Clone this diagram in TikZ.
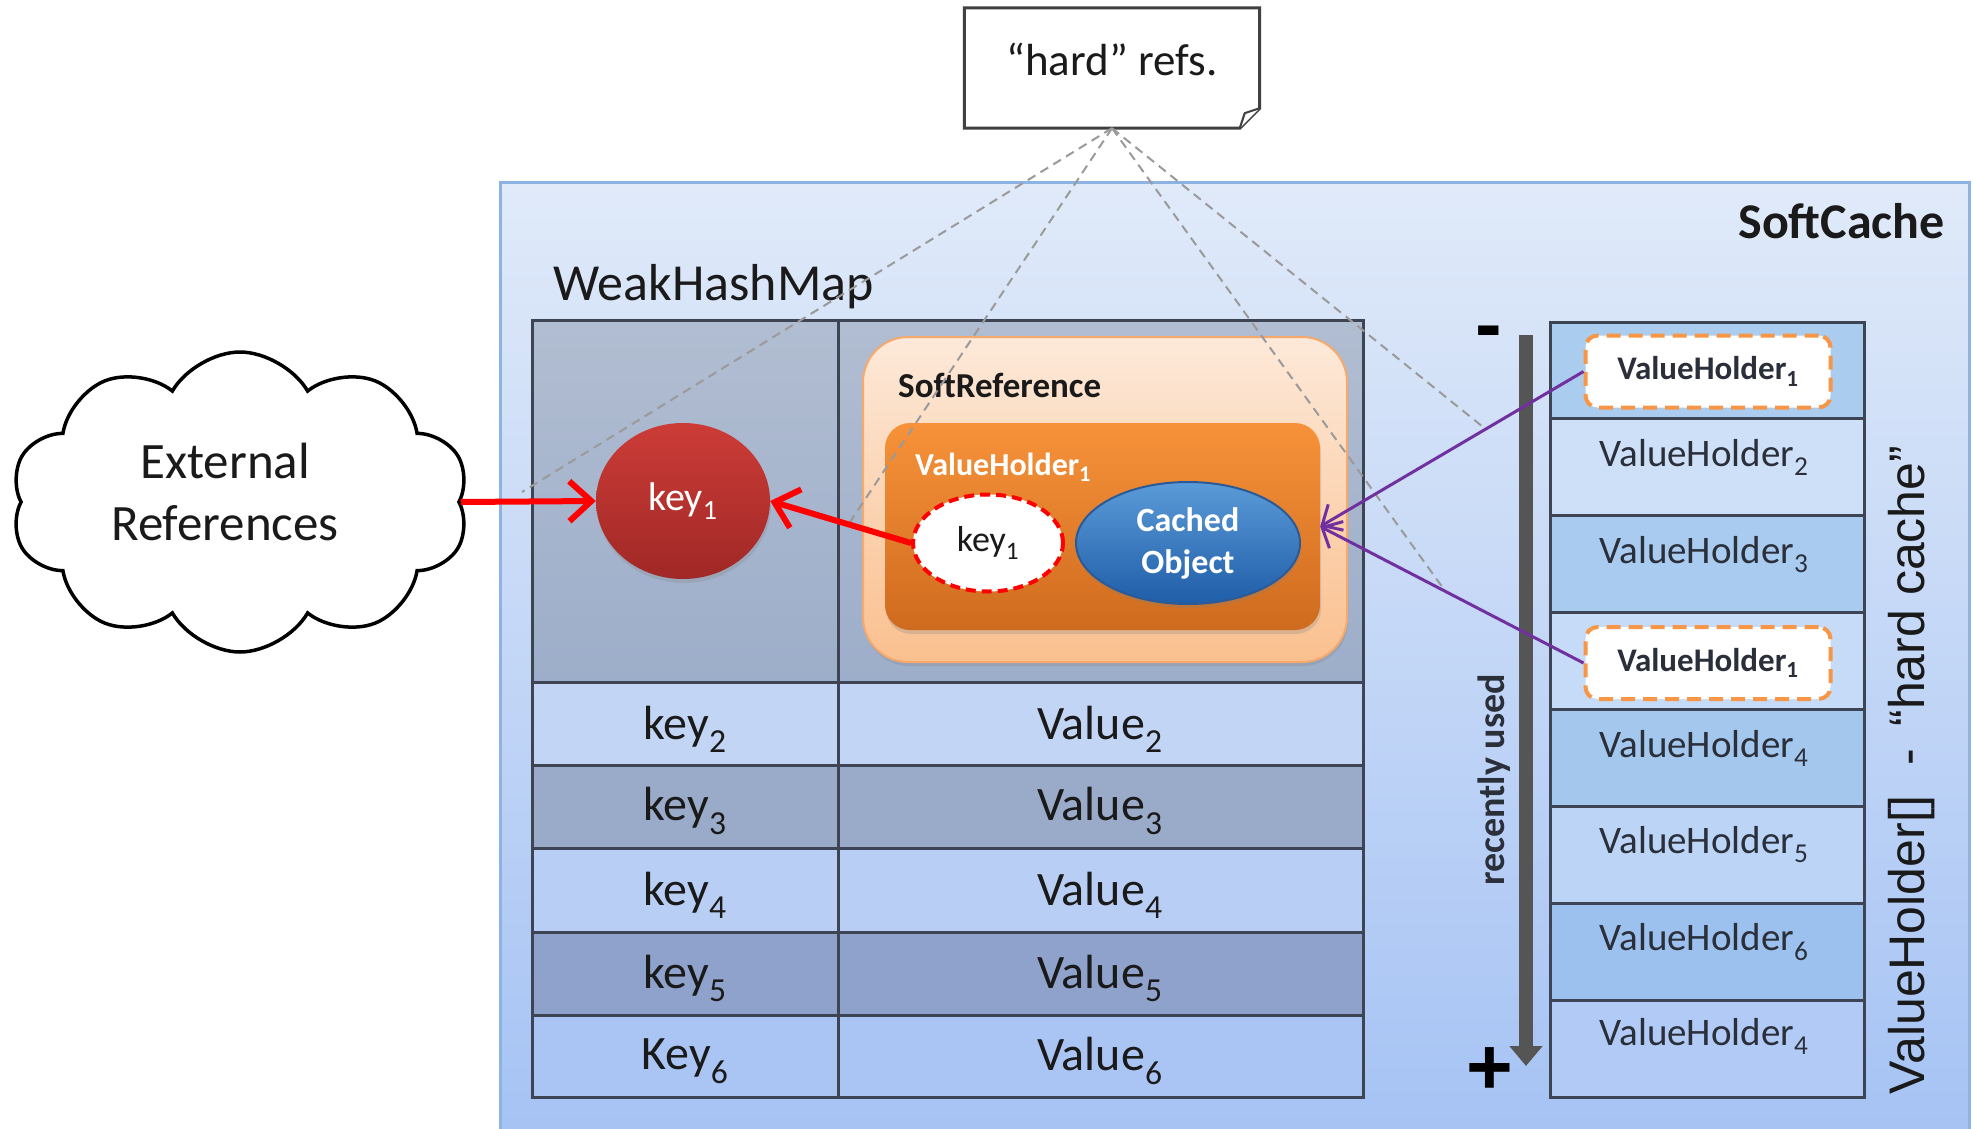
\documentclass[tikz,border=0pt]{standalone}
\usepackage{fontspec}
\setmainfont{Carlito}
\newfontfamily\arialf{Liberation Sans}
\usetikzlibrary{shapes.geometric,shapes.symbols,arrows.meta,calc,shadows}

\definecolor{cacheTop}{HTML}{E0EAF9}
\definecolor{cacheBot}{HTML}{A6C3F4}
\definecolor{cacheBorder}{HTML}{8DB3E2}
\definecolor{gridc}{HTML}{3D4555}
\definecolor{tabTop}{HTML}{B1BDD1}
\definecolor{tabTopB}{HTML}{9DAECA}
\definecolor{rowLtwo}{HTML}{C3D5F5}
\definecolor{rowDthree}{HTML}{9AABC9}
\definecolor{rowLfour}{HTML}{B9CEF4}
\definecolor{rowDfive}{HTML}{8EA2CB}
\definecolor{rowLsix}{HTML}{AAC4F4}
\definecolor{txtc}{HTML}{1A1A1A}
\definecolor{vhtxtc}{HTML}{2A2F3A}
\definecolor{peachTop}{HTML}{FDE9D9}
\definecolor{peachBot}{HTML}{FAC08F}
\definecolor{peachBorder}{HTML}{F6A96C}
\definecolor{orangeTop}{HTML}{F7923A}
\definecolor{orangeBot}{HTML}{CF6B1E}
\definecolor{blueTop}{HTML}{5B9BD8}
\definecolor{blueBot}{HTML}{1F5DA8}
\definecolor{blueBorder}{HTML}{2A5B98}
\definecolor{redTop}{HTML}{CC3C37}
\definecolor{redBot}{HTML}{A02826}
\definecolor{arrRed}{HTML}{FF0000}
\definecolor{purp}{HTML}{7030A0}
\definecolor{dashOrange}{HTML}{F79646}
\definecolor{hardc}{HTML}{9A9A9A}
\definecolor{barc}{HTML}{555555}
\definecolor{notec}{HTML}{404040}

\begin{document}
\begin{tikzpicture}[x=1pt,y=-1pt,
  grid/.style={draw=gridc,line width=3pt},
  tabtxt/.style={text=txtc,font=\fontsize{48}{52}\selectfont,inner sep=0pt},
  vhrow/.style={draw=gridc,line width=3pt,minimum width=314pt,minimum height=96.9pt,inner sep=0pt},
  vhtxt/.style={text=vhtxtc,font=\fontsize{39}{42}\selectfont,inner sep=0pt},
  dashbox/.style={draw=dashOrange,fill=white,line width=4pt,dash pattern=on 14pt off 8pt,rounded corners=12pt,minimum width=245pt,minimum height=72pt,inner sep=0pt,font=\bfseries\fontsize{33}{36}\selectfont,text=vhtxtc},
  redarr/.style={draw=arrRed,line width=6pt,-{Straight Barb[length=22pt,width=40pt]}},
  purparr/.style={draw=purp,line width=3pt,-{Straight Barb[length=16pt,width=30pt]}},
  hardref/.style={draw=hardc,line width=2pt,dash pattern=on 9pt off 6pt},
  grayarr/.style={draw=barc,line width=14pt,-{Triangle[length=20pt,width=32pt]}},
  softshadow/.style={drop shadow={opacity=0.25,shadow xshift=1pt,shadow yshift=-4pt}}
]
\useasboundingbox (0,0) rectangle (1973,1129);
\fill[white] (0,0) rectangle (1973,1129);

% SoftCache container
\shade[top color=cacheTop,bottom color=cacheBot] (500,182) rectangle (1969,1129);
\draw[draw=cacheBorder,line width=3pt] (500,1129) -- (500,182) -- (1969,182) -- (1969,1129);
\node[anchor=base east,font=\bfseries\fontsize{50}{54}\selectfont,text=txtc,inner sep=0pt] (softcache) at (1945,238) {SoftCache};
\node[anchor=base west,font=\fontsize{52}{56}\selectfont,text=txtc,inner sep=0pt] (whm) at (553,300) {WeakHashMap};

% WeakHashMap table
\shade[top color=tabTop,bottom color=tabTopB] (532,320) rectangle (1363,682);
\fill[rowLtwo] (532,682) rectangle (1363,765);
\fill[rowDthree] (532,765) rectangle (1363,848);
\fill[rowLfour] (532,848) rectangle (1363,932);
\fill[rowDfive] (532,932) rectangle (1363,1015);
\fill[rowLsix] (532,1015) rectangle (1363,1097);
\draw[grid] (532,320) rectangle (1363,1097);
\foreach \yy in {682,765,848,932,1015} \draw[grid] (532,\yy) -- (1363,\yy);
\draw[grid] (838,320) -- (838,1097);

\node[tabtxt] (k2) at (685,729) {key\textsubscript{2}};
\node[tabtxt] (v2) at (1100,729) {Value\textsubscript{2}};
\node[tabtxt] (k3) at (685,811) {key\textsubscript{3}};
\node[tabtxt] (v3) at (1100,811) {Value\textsubscript{3}};
\node[tabtxt] (k4) at (685,895) {key\textsubscript{4}};
\node[tabtxt] (v4) at (1100,895) {Value\textsubscript{4}};
\node[tabtxt] (k5) at (685,978) {key\textsubscript{5}};
\node[tabtxt] (v5) at (1100,978) {Value\textsubscript{5}};
\node[tabtxt] (k6) at (685,1061) {Key\textsubscript{6}};
\node[tabtxt] (v6) at (1100,1061) {Value\textsubscript{6}};

% SoftReference
\node[rectangle,rounded corners=45pt,top color=peachTop,bottom color=peachBot,draw=peachBorder,line width=2pt,minimum width=484pt,minimum height=325pt,softshadow] (softref) at (1105,499.5) {};
\node[anchor=west,font=\bfseries\fontsize{35}{38}\selectfont,text=txtc,inner sep=0pt] (softreflbl) at (898,385) {SoftReference};
\node[rectangle,rounded corners=25pt,top color=orangeTop,bottom color=orangeBot,minimum width=435pt,minimum height=207pt,softshadow] (vh) at (1102.5,526.5) {};
\node[anchor=west,font=\bfseries\fontsize{32}{36}\selectfont,text=white,inner sep=0pt] (vhlbl) at (915,467) {ValueHolder\textsubscript{1}};
\node[ellipse,fill=white,draw=arrRed,line width=4pt,dash pattern=on 10pt off 6pt,minimum width=150pt,minimum height=97pt,inner sep=0pt,font=\fontsize{36}{40}\selectfont,text=txtc] (dkey) at (988,543) {key\textsubscript{1}};
\node[ellipse,top color=blueTop,bottom color=blueBot,draw=blueBorder,line width=2pt,minimum width=224pt,minimum height=122pt,inner sep=0pt,align=center,font=\bfseries\fontsize{34}{42}\selectfont,text=white,softshadow] (cobj) at (1188,543) {Cached\\Object};

% key1 in table
\node[ellipse,top color=redTop,bottom color=redBot,minimum width=174pt,minimum height=156pt,inner sep=0pt,font=\fontsize{40}{44}\selectfont,text=white,softshadow] (key1) at (683,501) {key\textsubscript{1}};

% Cloud
\node[cloud,cloud puffs=10,cloud puff arc=120,aspect=1.5,draw=black,line width=3.5pt,fill=white,minimum width=458pt,minimum height=300pt,inner sep=0pt] (ext) at (240,502) {};
\node[align=center,font=\fontsize{51}{62}\selectfont,text=txtc,inner sep=0pt] (exttxt) at (225,492) {External\\References};

% "hard" refs note
\node[minimum width=295pt,minimum height=120pt,inner sep=0pt] (note) at (1112,68) {};
\draw[draw=notec,fill=white,line width=3pt] (note.north west) -- (note.north east) -- ([yshift=20pt]note.south east) -- ([xshift=-20pt]note.south east) -- (note.south west) -- cycle;
\node[font=\fontsize{45}{48}\selectfont,text=txtc,inner sep=0pt] (notetxt) at (1112,59) {“hard” refs.};
\draw[draw=notec,fill=white,line width=2pt,line join=round] ([yshift=20pt]note.south east) -- ([xshift=-15pt,yshift=15pt]note.south east) -- ([xshift=-20pt]note.south east);

% Right column: ValueHolder[]
\node[vhrow,fill={rgb,255:red,170;green,205;blue,239}] (r1) at (1707,370.45) {};
\node[vhrow,fill={rgb,255:red,205;green,224;blue,248}] (r2) at (1707,467.35) {};
\node[vhrow,fill={rgb,255:red,168;green,203;blue,239}] (r3) at (1707,564.25) {};
\node[vhrow,fill={rgb,255:red,198;green,219;blue,247}] (r4) at (1707,661.15) {};
\node[vhrow,fill={rgb,255:red,164;green,199;blue,238}] (r5) at (1707,758.05) {};
\node[vhrow,fill={rgb,255:red,188;green,212;blue,246}] (r6) at (1707,854.95) {};
\node[vhrow,fill={rgb,255:red,156;green,193;blue,238}] (r7) at (1707,951.85) {};
\node[vhrow,fill={rgb,255:red,177;green,203;blue,246}] (r8) at (1707,1048.75) {};

\node[vhtxt] (t2) at ($(r2.center)+(-3,-10)$) {ValueHolder\textsubscript{2}};
\node[vhtxt] (t3) at ($(r3.center)+(-3,-10)$) {ValueHolder\textsubscript{3}};
\node[vhtxt] (t5) at ($(r5.center)+(-3,-10)$) {ValueHolder\textsubscript{4}};
\node[vhtxt] (t6) at ($(r6.center)+(-3,-10)$) {ValueHolder\textsubscript{5}};
\node[vhtxt] (t7) at ($(r7.center)+(-3,-10)$) {ValueHolder\textsubscript{6}};
\node[vhtxt] (t8) at ($(r8.center)+(-3,-12)$) {ValueHolder\textsubscript{4}};

\node[dashbox] (d1) at (1708,371.5) {ValueHolder\textsubscript{1}};
\node[dashbox] (d2) at (1708,663) {ValueHolder\textsubscript{1}};

% recently used bar
\coordinate (gtop) at (1526,335);
\coordinate (gbot) at (1526,1066);
\draw[grayarr] (gtop) -- (gbot);
\node[font=\arialf\bfseries\fontsize{80}{80}\selectfont,inner sep=0pt] (minus) at (1489,339) {-};
\node[font=\arialf\bfseries\fontsize{80}{80}\selectfont,inner sep=0pt] (plus) at (1490,1071) {+};
\node[rotate=90,font=\bfseries\fontsize{38}{40}\selectfont,text=vhtxtc,inner sep=0pt] (recent) at (1494,780) {recently used};

\node[rotate=90,font=\arialf\fontsize{50}{52}\selectfont,text=txtc,inner sep=0pt] (vharr) at (1912,770) {ValueHolder[]\hspace{30pt}-\hspace{22pt}“hard cache”};

% hard reference dashed lines
\coordinate (h1) at (522,492);
\coordinate (h2) at (850,522);
\coordinate (h3) at (1483,427);
\coordinate (h4) at (1443,588);
\draw[hardref] (note.south) -- (h1);
\draw[hardref] (note.south) -- (h2);
\draw[hardref] (note.south) -- (h3);
\draw[hardref] (note.south) -- (h4);

% arrows
\draw[redarr] (ext.east) -- (key1.west);
\draw[redarr] (dkey.west) -- (key1.east);
\draw[purparr] (d1.west) -- (vh.east);
\draw[purparr] (d2.west) -- (vh.east);
\end{tikzpicture}
\end{document}
